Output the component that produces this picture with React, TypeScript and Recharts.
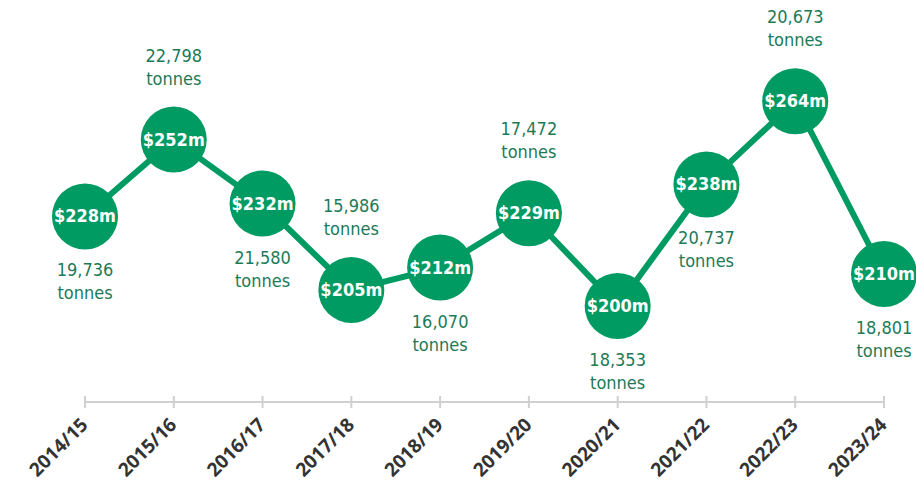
import { LineChart, Line, XAxis, YAxis } from "recharts"

const years = ["2014/15", "2015/16", "2016/17", "2017/18", "2018/19", "2019/20", "2020/21", "2021/22", "2022/23", "2023/24"]
const valueMillions = [228, 252, 232, 205, 212, 229, 200, 238, 264, 210]
const tonnes = [19736, 22798, 21580, 15986, 16070, 17472, 18353, 20737, 20673, 18801]

// which side of the bubble the tonnage label sits on
const labelSide = ["below", "above", "below", "above", "below", "above", "below", "below", "above", "below"]

const data = years.map((year, i) => ({ year, value: valueMillions[i], tonnes: tonnes[i] }))

const GREEN = "#009a63"
const TEXT_GREEN = "#1d7a57"

function Bubble(props: any) {
    const { cx, cy, index, payload } = props
    if (cx == null || cy == null) return null
    const above = labelSide[index] === "above"
    const l1 = above ? cy - 78 : cy + 60
    const l2 = above ? cy - 55 : cy + 83
    return (
        <g key={`b-${index}`}>
            <circle cx={cx} cy={cy} r={33} fill={GREEN} />
            <text x={cx} y={cy + 6} textAnchor="middle" fill="#fff" fontSize={18} fontWeight="bold" fontFamily="DejaVu Sans Condensed">
                ${payload.value}m
            </text>
            <text x={cx} y={l1} textAnchor="middle" fill={TEXT_GREEN} fontSize={18} fontFamily="DejaVu Sans Condensed">
                {payload.tonnes.toLocaleString("en-US")}
            </text>
            <text x={cx} y={l2} textAnchor="middle" fill={TEXT_GREEN} fontSize={18} fontFamily="DejaVu Sans Condensed">
                tonnes
            </text>
        </g>
    )
}

function YearTick(props: any) {
    const { x, y, payload } = props
    return (
        <g>
            <line x1={x} x2={x} y1={y - 6} y2={y + 6} stroke="#d0d0d0" strokeWidth={2} />
            <text
                transform={`translate(${x + 4},${y + 24}) rotate(-45)`}
                textAnchor="end"
                fill="#333"
                fontSize={19}
                fontWeight="bold"
                fontFamily="Open Sans"
            >
                {payload.value}
            </text>
        </g>
    )
}

export default function App() {
    return (
        <div style={{ position: "absolute", left: 0, top: 0, width: 916, height: 486, overflow: "hidden", background: "#fff" }}>
            <LineChart width={916} height={486} data={data} margin={{ top: 50, right: 32, bottom: 54, left: 85 }}>
                <XAxis
                    dataKey="year"
                    height={30}
                    interval={0}
                    tickLine={false}
                    tickSize={0}
                    tickMargin={0}
                    axisLine={{ stroke: "#d0d0d0", strokeWidth: 2 }}
                    tick={<YearTick />}
                />
                <YAxis hide domain={[170, 280]} />
                <Line
                    type="linear"
                    dataKey="value"
                    stroke={GREEN}
                    strokeWidth={6}
                    dot={<Bubble />}
                    activeDot={false}
                    isAnimationActive={false}
                />
            </LineChart>
        </div>
    )
}
